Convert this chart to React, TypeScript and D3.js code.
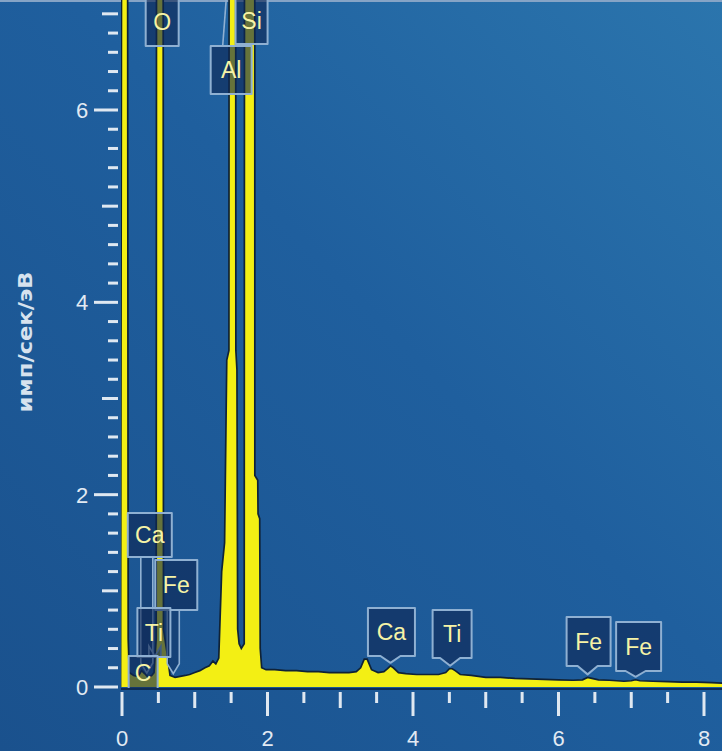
import React from "react";
import * as d3 from "d3";

// ---- data ----
const energies = [
  -0.02, 0.005, 0.07, 0.085, 0.1, 0.16, 0.22, 0.27, 0.31, 0.36, 0.41, 0.44, 0.47, 0.478, 0.562, 0.57, 0.62, 0.66,
  0.73, 0.8, 0.87, 0.93, 1.0, 1.07, 1.14, 1.2, 1.25, 1.29, 1.33, 1.37, 1.41, 1.44, 1.47, 1.475, 1.56,
  1.565, 1.58, 1.59, 1.61, 1.64, 1.68, 1.687, 1.824, 1.826, 1.866, 1.87, 1.893, 1.9, 1.92, 1.98, 2.1, 2.25,
  2.4, 2.55, 2.7, 2.85, 3.0, 3.12, 3.22, 3.28, 3.33, 3.37, 3.43, 3.52, 3.6, 3.65, 3.69, 3.73, 3.8, 3.9, 4.05,
  4.2, 4.35, 4.45, 4.5, 4.54, 4.58, 4.65, 4.8, 5.0, 5.2, 5.4, 5.6, 5.8, 6.0, 6.2, 6.33, 6.4, 6.46, 6.55, 6.7,
  6.9, 7.0, 7.06, 7.12, 7.3, 7.5, 7.7, 7.9, 8.1, 8.3,
];
const counts = [
  0, 14, 14, 0.5, 0.15, 0.12, 0.11, 0.17, 0.14, 0.1, 0.12, 0.15, 0.5, 14, 14, 0.6, 0.35, 0.12,
  0.1, 0.11, 0.12, 0.13, 0.15, 0.17, 0.2, 0.22, 0.27, 0.24, 0.3, 1.2, 1.5, 3.4, 3.5, 14, 14,
  3.5, 3.3, 0.6, 0.45, 0.4, 0.45, 14, 14, 2.2, 2.15, 1.8, 1.75, 0.4, 0.2, 0.18, 0.18, 0.17,
  0.17, 0.16, 0.16, 0.15, 0.15, 0.15, 0.16, 0.2, 0.29, 0.29, 0.18, 0.15, 0.16, 0.19, 0.22, 0.2, 0.15, 0.14, 0.13,
  0.13, 0.13, 0.15, 0.19, 0.19, 0.17, 0.13, 0.12, 0.1, 0.1, 0.09, 0.085, 0.08, 0.075, 0.07, 0.075, 0.1, 0.09, 0.075, 0.07,
  0.06, 0.065, 0.075, 0.065, 0.06, 0.055, 0.05, 0.05, 0.045, 0.04,
];

const xTickLabels = [0, 2, 4, 6, 8];
const yTickLabels = [0, 2, 4, 6];
const yTitle = "имп/сек/эВ";

const labelNames = ["O", "Si", "Al", "Ca", "Fe", "Ti", "C", "Ca", "Ti", "Fe", "Fe"];
const labelEnergies = [0.525, 1.74, 1.487, 0.341, 0.705, 0.452, 0.277, 3.69, 4.51, 6.4, 7.06];

// ---- layout for the labels (px): box centre offset, width, top, bottom, kind ----
const labelLayout = [
  { dx: 2, w: 33, top: -4, bottom: 46, kind: "top" },
  { dx: 3, w: 32, top: -4, bottom: 44, kind: "top" },
  { dx: 1, w: 41, top: 46, bottom: 94, kind: "lead" },
  { dx: 3, w: 44, top: 513, bottom: 557, kind: "stem" },
  { dx: 3, w: 42, top: 560, bottom: 610, kind: "stem" },
  { dx: -1, w: 33, top: 608, bottom: 657, kind: "stem" },
  { dx: 1, w: 29, top: 656, bottom: 690, kind: "none" },
  { dx: 1, w: 47, top: 608, bottom: 656, kind: "tip" },
  { dx: 2, w: 39, top: 610, bottom: 658, kind: "tip" },
  { dx: 1, w: 44, top: 617, bottom: 666, kind: "tip" },
  { dx: 3, w: 45, top: 622, bottom: 671, kind: "tip" },
];

const W = 722;
const H = 751;

export default function App() {
  const x = d3.scaleLinear().domain([0, 8]).range([122, 704]);
  const y = d3.scaleLinear().domain([0, 6]).range([687, 110]);

  const pts = energies.map((e, i) => [e, counts[i]] as [number, number]);
  const area = d3
    .area<[number, number]>()
    .x((d) => x(d[0]))
    .y0(y(0))
    .y1((d) => y(d[1]))
    .curve(d3.curveLinear);
  const line = d3
    .line<[number, number]>()
    .x((d) => x(d[0]))
    .y((d) => y(d[1]))
    .curve(d3.curveLinear);

  const interp = (e: number) => {
    const i = d3.bisector((d: [number, number]) => d[0]).left(pts, e);
    if (i <= 0) return pts[0][1];
    if (i >= pts.length) return pts[pts.length - 1][1];
    const a = pts[i - 1];
    const b = pts[i];
    const t = (e - a[0]) / (b[0] - a[0]);
    return a[1] + t * (b[1] - a[1]);
  };

  const yMinor = d3.range(0, 7.21, 0.2).map((v) => Math.round(v * 10) / 10);
  const xMinor = d3.range(0, 8.01, 0.5);

  const tickColor = "#dfe8f1";
  const font = "'Liberation Sans', Arial, sans-serif";

  return (
    <div style={{ position: "absolute", left: 0, top: 0 }}>
      <svg width={W} height={H} style={{ display: "block" }}>
        <defs>
          <linearGradient id="bg" x1="0" y1="1" x2="1" y2="0">
            <stop offset="0" stopColor="#1a518d" />
            <stop offset="0.55" stopColor="#1f5f9e" />
            <stop offset="1" stopColor="#2b75ad" />
          </linearGradient>
          <clipPath id="plot">
            <rect x={121} y={0} width={W - 121} height={y(0) + 1} />
          </clipPath>
        </defs>
        <rect width={W} height={H} fill="url(#bg)" />
        <rect width={W} height={2} fill="#86a4c6" />

        {/* spectrum */}
        <g clipPath="url(#plot)">
          <path d={area(pts) || ""} fill="#f3ef14" />
          <path d={line(pts) || ""} fill="none" stroke="#0f2237" strokeWidth={1.7} strokeLinejoin="miter" />
        </g>
        <line x1={121} x2={W} y1={y(0) + 2} y2={y(0) + 2} stroke="#0d2b55" strokeWidth={2} />

        {/* y axis ticks */}
        {yMinor.map((v) => {
          const isMajor = Math.abs(v % 2) < 1e-6;
          const isMed = !isMajor && Math.abs(v % 1) < 1e-6;
          const len = isMajor ? 24 : isMed ? 16 : 10;
          return (
            <rect key={"yt" + v} x={118 - len} y={y(v) - 1.5} width={len} height={3} fill={tickColor} />
          );
        })}
        {yTickLabels.map((v) => (
          <text
            key={"yl" + v}
            x={82}
            y={y(v)}
            dy="0.36em"
            textAnchor="middle"
            fontFamily={font}
            fontSize={22}
            fill="#e2eaf3"
          >
            {v}
          </text>
        ))}

        {/* x axis ticks */}
        {xMinor.map((v) => {
          const isMajor = Math.abs(v % 2) < 1e-6;
          const isMed = !isMajor && Math.abs(v % 1) < 1e-6;
          const len = isMajor ? 24 : isMed ? 16 : 11;
          return <rect key={"xt" + v} x={x(v) - 1.5} y={692} width={3} height={len} fill={tickColor} />;
        })}
        {xTickLabels.map((v) => (
          <text
            key={"xl" + v}
            x={x(v)}
            y={746}
            textAnchor="middle"
            fontFamily={font}
            fontSize={22}
            fill="#e2eaf3"
          >
            {v}
          </text>
        ))}

        <text
          transform={`translate(32, 342) rotate(-90)`}
          textAnchor="middle"
          fontFamily="'DejaVu Sans', sans-serif"
          fontSize={19}
          fontWeight="bold"
          fill="#d6e2ee"
          textLength={141}
          lengthAdjust="spacingAndGlyphs"
        >
          {yTitle}
        </text>

        {/* element labels */}
        {labelNames.map((name, i) => {
          const L = labelLayout[i];
          const ex = x(labelEnergies[i]);
          const cx = ex + L.dx;
          const left = cx - L.w / 2;
          const right = cx + L.w / 2;
          const tipY = y(interp(labelEnergies[i])) - 3;
          let shape = "";
          const extra: JSX.Element[] = [];
          if (L.kind === "tip") {
            shape = `M${left},${L.top} L${right},${L.top} L${right},${L.bottom} L${ex + 10},${L.bottom} L${ex},${tipY} L${ex - 10},${L.bottom} L${left},${L.bottom} Z`;
          } else {
            shape = `M${left},${L.top} L${right},${L.top} L${right},${L.bottom} L${left},${L.bottom} Z`;
            if (L.kind === "stem") {
              const sb = tipY - 10;
              extra.push(
                <path
                  key="s"
                  d={`M${ex - 6},${L.bottom} L${ex - 6},${sb} L${ex},${tipY} L${ex + 6},${sb} L${ex + 6},${L.bottom}`}
                  fill="rgba(16,42,88,0.45)"
                  stroke="#8fb0d2"
                  strokeWidth={1.6}
                />
              );
            }
            if (L.kind === "lead") {
              extra.push(
                <line key="l" x1={left + 12} y1={L.top} x2={ex - 4} y2={0} stroke="#8fb0d2" strokeWidth={1.6} />
              );
            }
          }
          return (
            <g key={"lab" + i} clipPath={L.kind === "none" ? "url(#plot)" : undefined}>
              {extra}
              <path d={shape} fill="rgba(14,38,84,0.62)" stroke="#8fb0d2" strokeWidth={2} strokeLinejoin="round" />
              <text
                x={cx}
                y={(Math.max(L.top, 0) + L.bottom) / 2 + (L.top < 0 ? -1 : 0)}
                dy="0.36em"
                textAnchor="middle"
                fontFamily={font}
                fontSize={23}
                fill="#f6f3a6"
              >
                {name}
              </text>
            </g>
          );
        })}
      </svg>
    </div>
  );
}
